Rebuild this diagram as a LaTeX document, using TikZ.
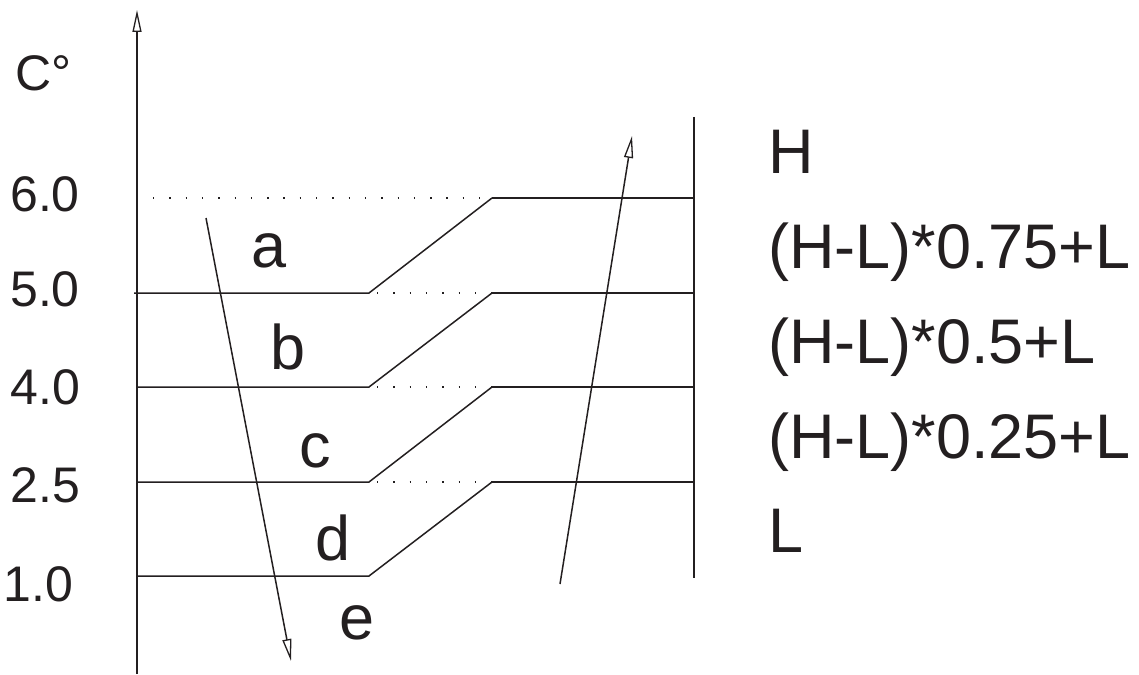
\documentclass[tikz,border=0pt]{standalone}
\usepackage{fontspec}
\setmainfont{Liberation Sans}
\usetikzlibrary{arrows.meta}
\definecolor{ink}{HTML}{231F20}
\tikzset{
  ln/.style={draw=ink, line width=1.5pt},
  dotln/.style={draw=ink, line width=1.6pt, dash pattern=on 1.4pt off 14.9pt},
  arr/.style={ln, -{Triangle[open, length=22pt, width=9pt, line width=1.3pt]}},
  small/.style={inner sep=0pt, anchor=base west, text=ink, font=\fontsize{50}{60}\selectfont},
  big/.style={inner sep=0pt, anchor=base west, text=ink, font=\fontsize{63}{75}\selectfont},
  lett/.style={inner sep=0pt, anchor=base, text=ink, font=\fontsize{63}{75}\selectfont},
}
\begin{document}
\begin{tikzpicture}[x=1pt, y=-1pt]
\useasboundingbox (0,0) rectangle (1139,674);
% coordinates
\coordinate (axB) at (137,674);
\coordinate (axT) at (137,10);
\coordinate (rvT) at (694,117);
\coordinate (rvB) at (694,578);
\foreach \n/\y in {1/198, 2/293, 3/387, 4/482, 5/576}{
  \coordinate (L\n) at (137,\y);
  \coordinate (K\n) at (369,\y);
  \coordinate (J\n) at (492,\y);
  \coordinate (R\n) at (694,\y);
}
\coordinate (D0) at (153,198);
\coordinate (L2x) at (134,293);
% axis
\draw[arr] (axB) -- (axT);
\draw[ln] (rvT) -- (rvB);
% top level
\draw[dotln] (D0) -- (J1);
\draw[ln] (J1) -- (R1);
% levels
\draw[ln] (L2x) -- (K2) -- (J1);
\draw[ln] (L3) -- (K3) -- (J2);
\draw[ln] (L4) -- (K4) -- (J3);
\draw[ln] (L5) -- (K5) -- (J4);
\foreach \n in {2,3,4}{
  \draw[dotln] ([xshift=8pt]K\n) -- (J\n);
  \draw[ln] (J\n) -- (R\n);
}
% arrows
\coordinate (dA) at (206,218);
\coordinate (dB) at (291,661);
\coordinate (uA) at (560,584);
\coordinate (uB) at (632,136);
\draw[arr] (dA) -- (dB);
\draw[arr] (uA) -- (uB);
% left labels
\node[small] (tC) at (15.5,91) {C°};
\node[small] (t6) at (10,211) {6.0};
\node[small] (t5) at (10,306) {5.0};
\node[small] (t4) at (10.5,404) {4.0};
\node[small] (t25) at (10.5,502) {2.5};
\node[small] (t1) at (3.6,601) {1.0};
% letters
\node[lett] (la) at (269,267) {a};
\node[lett] (lb) at (288,369) {b};
\node[lett] (lc) at (315.5,467) {c};
\node[lett] (ld) at (333,560) {d};
\node[lett] (le) at (357.5,639) {e};
% right labels
\node[big] (rH) at (768,173) {H};
\node[big] (r75) at (768,268) {(H-L)*0.75+L};
\node[big] (r50) at (768,363) {(H-L)*0.5+L};
\node[big] (r25) at (768,458) {(H-L)*0.25+L};
\node[big] (rL) at (768,552) {L};
\end{tikzpicture}
\end{document}
